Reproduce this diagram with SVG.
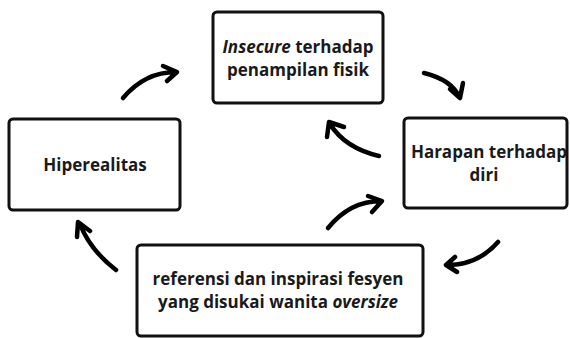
<svg xmlns="http://www.w3.org/2000/svg" width="570" height="338" viewBox="0 0 570 338">
<style>
.box{fill:#fff;stroke:#111;stroke-width:3}
.t{font-family:"Open Sans","Noto Sans",sans-serif;font-weight:700;font-size:17px;fill:#1a1a1a;text-anchor:middle}
.a{fill:none;stroke:#000;stroke-width:4.5;stroke-linecap:round;stroke-linejoin:round}
</style>
<rect width="570" height="338" fill="#fff"/>
<g id="node-insecure">
<rect class="box" x="213" y="12" width="170" height="91" rx="4"/>
<text class="t" x="298" y="53"><tspan font-style="italic">Insecure</tspan> terhadap</text>
<text class="t" x="298" y="76">penampilan fisik</text>
</g>
<g id="node-harapan">
<rect class="box" x="404" y="118" width="163" height="90" rx="4"/>
<text class="t" x="489" y="158">Harapan terhadap</text>
<text class="t" x="484" y="181">diri</text>
</g>
<g id="node-referensi">
<rect class="box" x="137" y="245" width="286" height="91" rx="4"/>
<text class="t" x="278" y="285">referensi dan inspirasi fesyen</text>
<text class="t" x="278" y="308">yang disukai wanita <tspan font-style="italic">oversize</tspan></text>
</g>
<g id="node-hiperealitas">
<rect class="box" x="9" y="119" width="171" height="91" rx="4"/>
<text class="t" x="95" y="171">Hiperealitas</text>
</g>
<g id="connectors">
<path class="a" d="M123,98 Q145,72 176,72 M163,66 L177,72 L167,81"/>
<path class="a" d="M424,73 Q452,80 459,97 M450,89 L460,98 L463,83"/>
<path class="a" d="M379,156 Q345,148 330,124 M327,137 L329,122 L344,127"/>
<path class="a" d="M328,228 Q350,201 381,201 M368,196 L382,201 L372,212"/>
<path class="a" d="M498,242 Q478,265 447,265 M455,257 L446,265 L457,272"/>
<path class="a" d="M116,270 Q90,250 80,224 M77,237 L78,222 L90,231"/>
</g>
</svg>
